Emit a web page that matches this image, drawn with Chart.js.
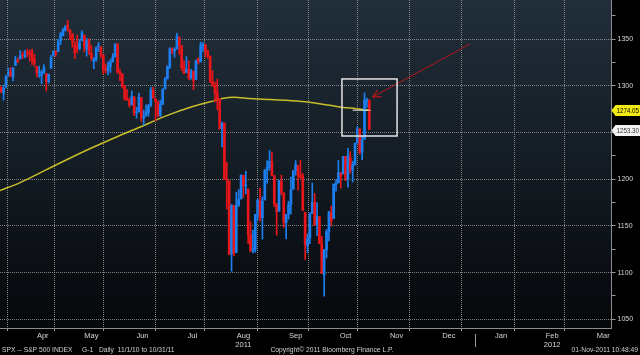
<!DOCTYPE html>
<html><head><meta charset="utf-8">
<script src="https://cdn.jsdelivr.net/npm/chart.js@4/dist/chart.umd.min.js"></script>
<style>html,body{margin:0;padding:0;background:#000;overflow:hidden}canvas{display:block}</style>
</head><body>
<canvas id="c" width="640" height="355"></canvas>
<script>
// ---- DATA (SPX daily, 22-Mar-2011 .. 31-Oct-2011) ----
const dates = [
 '3/22','3/23','3/24','3/25','3/28','3/29','3/30','3/31',
 '4/1','4/4','4/5','4/6','4/7','4/8','4/11','4/12','4/13','4/14','4/15','4/18','4/19','4/20','4/21','4/25','4/26','4/27','4/28','4/29',
 '5/2','5/3','5/4','5/5','5/6','5/9','5/10','5/11','5/12','5/13','5/16','5/17','5/18','5/19','5/20','5/23','5/24','5/25','5/26','5/27','5/31',
 '6/1','6/2','6/3','6/6','6/7','6/8','6/9','6/10','6/13','6/14','6/15','6/16','6/17','6/20','6/21','6/22','6/23','6/24','6/27','6/28','6/29','6/30',
 '7/1','7/5','7/6','7/7','7/8','7/11','7/12','7/13','7/14','7/15','7/18','7/19','7/20','7/21','7/22','7/25','7/26','7/27','7/28','7/29',
 '8/1','8/2','8/3','8/4','8/5','8/8','8/9','8/10','8/11','8/12','8/15','8/16','8/17','8/18','8/19','8/22','8/23','8/24','8/25','8/26','8/29','8/30','8/31',
 '9/1','9/2','9/6','9/7','9/8','9/9','9/12','9/13','9/14','9/15','9/16','9/19','9/20','9/21','9/22','9/23','9/26','9/27','9/28','9/29','9/30',
 '10/3','10/4','10/5','10/6','10/7','10/10','10/11','10/12','10/13','10/14','10/17','10/18','10/19','10/20','10/21','10/24','10/25','10/26','10/27','10/28','10/31'
];
const opens = [
 1298.3,1292.2,1300.6,1311.8,1315.5,1309.4,1321.9,1327.4,
 1329.5,1333.6,1332.0,1335.9,1334.8,1336.2,1329.0,1321.1,1314.0,1311.1,1314.5,1313.4,1305.0,1319.1,1333.2,1337.1,1336.8,1348.4,1353.9,1360.1,
 1365.2,1359.8,1355.9,1344.2,1340.3,1340.2,1348.3,1354.5,1339.4,1348.7,1334.8,1326.1,1328.5,1342.4,1342.0,1333.1,1317.7,1316.4,1320.6,1325.7,1331.1,
 1345.2,1314.6,1313.0,1300.3,1286.3,1284.6,1279.6,1288.3,1271.3,1272.2,1287.9,1265.5,1268.6,1271.5,1278.4,1295.5,1286.6,1283.0,1268.4,1280.2,1296.9,1307.6,
 1320.6,1339.6,1337.6,1339.6,1352.4,1343.3,1319.6,1314.5,1317.7,1308.9,1315.9,1307.1,1328.7,1325.7,1343.8,1344.3,1337.4,1331.9,1304.8,1300.1,
 1292.6,1286.6,1254.3,1260.2,1200.3,1198.5,1120.2,1171.8,1121.3,1172.9,1178.9,1204.2,1192.9,1189.6,1140.5,1123.6,1124.4,1162.2,1176.7,1158.9,1177.9,1209.8,1213.0,
 1219.1,1203.9,1173.8,1165.9,1197.9,1185.4,1153.5,1162.6,1173.3,1189.4,1209.2,1214.9,1204.5,1203.6,1164.6,1128.8,1136.9,1163.3,1175.4,1151.7,1159.9,
 1131.2,1097.4,1124.0,1144.1,1165.0,1158.2,1194.6,1196.2,1206.0,1205.7,1224.5,1200.8,1223.5,1209.9,1215.4,1238.7,1254.2,1229.2,1243.0,1284.4,1284.9
];
const highs = [
 1299.4,1300.6,1311.3,1319.2,1319.7,1319.5,1331.7,1329.8,
 1337.9,1336.7,1338.2,1339.4,1338.8,1339.5,1333.8,1321.1,1321.4,1316.8,1322.9,1313.4,1312.7,1332.7,1337.5,1337.6,1349.6,1357.5,1361.7,1364.6,
 1370.6,1360.8,1355.9,1348.0,1354.4,1349.4,1359.4,1354.5,1351.1,1350.5,1343.3,1330.4,1341.8,1346.8,1342.0,1333.1,1323.7,1325.9,1328.5,1334.6,1345.2,
 1345.2,1318.0,1313.0,1300.3,1296.2,1287.0,1294.5,1288.3,1277.0,1292.5,1287.9,1274.1,1279.8,1280.4,1298.6,1298.6,1286.6,1283.9,1284.9,1296.8,1309.2,1321.9,
 1341.0,1340.9,1340.9,1356.5,1352.4,1343.3,1327.2,1331.5,1326.9,1317.7,1315.9,1328.1,1330.4,1347.0,1346.1,1344.3,1338.5,1331.9,1316.3,1304.2,
 1307.4,1286.6,1261.2,1260.2,1218.1,1198.5,1172.9,1171.8,1186.3,1189.0,1204.5,1204.2,1208.5,1189.6,1154.5,1145.5,1162.4,1178.6,1190.7,1181.2,1210.1,1220.1,1230.7,
 1229.3,1203.9,1173.8,1198.6,1204.4,1185.4,1162.5,1176.4,1202.4,1209.1,1220.1,1214.9,1220.4,1206.3,1164.6,1141.7,1164.2,1195.9,1184.7,1175.1,1159.9,
 1138.9,1125.1,1146.1,1165.6,1171.4,1194.9,1199.2,1220.3,1207.5,1224.6,1224.5,1233.1,1229.6,1219.4,1239.0,1256.6,1254.2,1246.3,1292.7,1287.1,1284.9
];
const lows = [
 1292.7,1284.7,1297.7,1310.2,1310.2,1305.3,1321.9,1325.0,
 1328.6,1329.1,1330.0,1331.1,1326.6,1322.9,1321.1,1309.6,1309.2,1302.4,1313.5,1294.7,1303.0,1319.1,1332.0,1331.7,1336.8,1344.2,1353.6,1358.7,
 1358.6,1349.5,1341.5,1329.2,1335.6,1338.6,1348.3,1336.4,1332.0,1333.4,1327.3,1318.5,1326.6,1336.8,1330.7,1312.6,1313.9,1311.8,1314.4,1325.7,1331.1,
 1313.7,1305.6,1297.9,1284.9,1284.7,1277.4,1279.6,1268.3,1265.6,1272.2,1261.9,1258.1,1267.4,1267.6,1278.4,1286.8,1262.9,1267.2,1267.5,1280.2,1296.9,1307.6,
 1318.4,1334.3,1330.9,1339.6,1333.7,1316.4,1313.3,1314.5,1306.5,1307.4,1295.9,1307.1,1323.7,1325.7,1336.9,1331.1,1329.6,1303.5,1299.2,1282.9,
 1274.7,1254.0,1234.6,1199.5,1168.1,1119.3,1101.5,1118.0,1121.3,1170.7,1178.9,1180.5,1184.4,1131.0,1122.1,1121.1,1121.6,1156.3,1155.1,1135.9,1177.9,1195.8,1209.4,
 1203.9,1170.6,1140.1,1165.9,1183.3,1148.4,1136.1,1157.4,1162.7,1189.4,1204.5,1188.4,1201.3,1166.4,1114.2,1121.4,1131.1,1163.3,1150.4,1139.9,1131.3,
 1098.9,1074.8,1115.7,1134.0,1150.3,1158.2,1187.3,1196.2,1190.6,1205.7,1198.6,1191.5,1206.3,1197.3,1215.4,1238.7,1226.8,1221.1,1243.0,1277.0,1253.2
];
const closes = [
 1293.8,1297.5,1309.7,1313.8,1310.2,1319.4,1328.3,1325.8,
 1332.4,1332.9,1332.6,1335.5,1333.5,1328.2,1324.5,1314.2,1314.4,1314.5,1319.7,1305.1,1312.6,1330.4,1337.4,1335.3,1347.2,1355.7,1360.5,1363.6,
 1361.2,1356.6,1347.3,1335.1,1340.2,1346.3,1357.2,1342.1,1348.7,1337.8,1329.5,1329.0,1340.7,1343.6,1333.3,1317.4,1316.3,1320.5,1325.7,1331.1,1345.2,
 1314.6,1312.9,1300.2,1286.2,1284.9,1279.6,1289.0,1271.0,1271.8,1287.9,1265.4,1267.6,1271.5,1278.4,1295.5,1287.1,1283.5,1268.5,1280.1,1296.7,1307.4,1320.6,
 1339.7,1337.9,1339.2,1353.2,1343.8,1319.5,1313.6,1317.7,1308.9,1316.1,1305.4,1326.7,1325.8,1343.8,1345.0,1337.4,1331.9,1304.9,1300.7,1292.3,
 1286.9,1254.1,1260.3,1200.1,1199.4,1119.5,1172.5,1120.8,1172.6,1178.8,1204.5,1192.8,1193.9,1140.7,1123.5,1123.8,1162.4,1177.6,1159.3,1176.8,1210.1,1212.9,1218.9,
 1204.4,1174.0,1165.2,1198.6,1185.9,1154.2,1162.3,1172.9,1188.7,1209.1,1216.0,1204.1,1202.1,1166.8,1129.6,1136.4,1163.0,1175.4,1151.1,1160.4,1131.4,
 1099.2,1124.0,1144.0,1165.0,1155.5,1194.9,1195.5,1207.3,1203.7,1224.6,1200.9,1225.4,1209.9,1215.4,1238.3,1254.2,1229.1,1242.0,1284.6,1285.1,1253.3
];
// 200-day moving average, read at selected trading-day positions (Apr 1 = day 0)
const maDays   = [-9, 0, 10, 20, 30, 42, 50, 62, 72, 80, 85, 90, 97, 105, 112, 120, 126, 131, 136, 141, 147];
const maValues = [1187.5, 1196.5, 1209, 1221.5, 1233.5, 1247, 1255.5, 1268.5, 1277.5, 1283, 1286.5, 1288, 1286.5, 1285.5, 1284.6, 1283, 1281, 1279, 1277, 1275.8, 1274.05];
const monthNames = ['Apr','May','Jun','Jul','Aug','Sep','Oct','Nov','Dec','Jan','Feb','Mar'];
const monthYears = ['','','','','2011','','','','','','2012',''];
const monthStarts = [-0.5, 19.5, 40.5, 62.5, 82.5, 105.5, 126.5, 147.5, 169.5, 191.5, 213.5, 234.5, 256.5];
const yTicks = [1050,1075,1100,1125,1150,1175,1200,1225,1250,1275,1300,1325,1350,1375];
const lastMA = 1274.05, lastClose = 1253.30;
const arrowFrom = {x: 189.4, y: 1345}, arrowTo = {x: 148.4, y: 1288};
const boxX = [135.5, 158.7], boxY = [1246.4, 1307.5];

// ---- SETUP ----
const FIRST_DAY = -8;               // 22-Mar is 8 trading days before 1-Apr
const X_MIN = -8.5, X_MAX = 249.0, Y_MIN = 1040.7, Y_MAX = 1392.1;
const UP = '#1b7ff0', DOWN = '#e8161a';
const GRID = 'rgba(150,150,150,0.85)';
const FONT = "'Liberation Sans','DejaVu Sans',sans-serif";
Chart.defaults.font.family = FONT;
Chart.defaults.font.size = 8;

const xs = dates.map((d, i) => i + FIRST_DAY);
const candleColors = dates.map((d, i) => closes[i] >= opens[i] ? UP : DOWN);
const xTickVals = [];
monthNames.forEach((m, i) => { xTickVals.push(monthStarts[i]); xTickVals.push((monthStarts[i] + monthStarts[i + 1]) / 2); });

// draw text squeezed horizontally (narrow terminal-style font)
function narrowText(ctx, text, x, y, align, sx) {
  ctx.save();
  ctx.textAlign = align;
  ctx.translate(x, y);
  ctx.scale(sx, 1);
  ctx.fillText(text, 0, 0);
  ctx.restore();
}

const decorPlugin = {
  id: 'decor',
  beforeDraw(chart) {
    const {ctx, chartArea: a} = chart;
    ctx.save();
    ctx.fillStyle = '#000';
    ctx.fillRect(0, 0, chart.width, chart.height);
    const g = ctx.createLinearGradient(0, a.top, 0, a.bottom);
    g.addColorStop(0, '#212e3a');
    g.addColorStop(0.5, '#141c24');
    g.addColorStop(1, '#05070a');
    ctx.fillStyle = g;
    ctx.fillRect(a.left, a.top, a.right - a.left, a.bottom - a.top);
    ctx.restore();
  },
  afterDatasetsDraw(chart) {
    const {ctx} = chart, xS = chart.scales.x, yS = chart.scales.y;
    ctx.save();
    // annotation box
    ctx.strokeStyle = '#e4e4e4'; ctx.lineWidth = 1.5;
    const bx1 = xS.getPixelForValue(boxX[0]), bx2 = xS.getPixelForValue(boxX[1]);
    const by1 = yS.getPixelForValue(boxY[1]), by2 = yS.getPixelForValue(boxY[0]);
    ctx.strokeRect(bx1, by1, bx2 - bx1, by2 - by1);
    // arrow head
    const tx = xS.getPixelForValue(arrowTo.x), ty = yS.getPixelForValue(arrowTo.y);
    const fx = xS.getPixelForValue(arrowFrom.x), fy = yS.getPixelForValue(arrowFrom.y);
    const ang = Math.atan2(fy - ty, fx - tx);
    ctx.strokeStyle = '#b8161a'; ctx.lineWidth = 1.2;
    ctx.beginPath();
    [0.45, -0.45].forEach(d => {
      ctx.moveTo(tx, ty);
      ctx.lineTo(tx + 9 * Math.cos(ang + d), ty + 9 * Math.sin(ang + d));
    });
    ctx.stroke();
    ctx.restore();
  },
  afterDraw(chart) {
    const {ctx} = chart, xS = chart.scales.x, yS = chart.scales.y;
    ctx.save();
    // price tags on the right axis
    const tag = (v, fill, txt) => {
      const y = Math.round(yS.getPixelForValue(v)) + 0.5;
      const x0 = yS.left;
      ctx.fillStyle = fill;
      ctx.beginPath();
      ctx.moveTo(x0, y); ctx.lineTo(x0 + 4, y - 5.5); ctx.lineTo(640, y - 5.5);
      ctx.lineTo(640, y + 5.5); ctx.lineTo(x0 + 4, y + 5.5); ctx.closePath(); ctx.fill();
      ctx.fillStyle = txt; ctx.font = '8px ' + FONT;
      ctx.textBaseline = 'middle';
      narrowText(ctx, v.toFixed(2), x0 + 5, y + 0.5, 'left', 0.78);
    };
    tag(lastMA, '#f2ea10', '#000');
    tag(lastClose, '#f2f2f2', '#333');
    // year separator between Dec and Jan
    const sx = Math.round(xS.getPixelForValue(monthStarts[9])) + 0.5;
    ctx.strokeStyle = '#9a9a9a'; ctx.lineWidth = 1;
    ctx.beginPath(); ctx.moveTo(sx, 334); ctx.lineTo(sx, 347); ctx.stroke();
    // footer
    ctx.fillStyle = '#cfcfcf'; ctx.font = '8px ' + FONT; ctx.textBaseline = 'middle';
    const S = 0.84;
    narrowText(ctx, 'SPX -- S&P 500 INDEX', 2, 350, 'left', S);
    narrowText(ctx, 'G-1', 82, 350, 'left', S);
    narrowText(ctx, 'Daily  11/1/10 to 10/31/11', 99, 350, 'left', S);
    narrowText(ctx, 'Copyright\u00A9 2011 Bloomberg Finance L.P.', 332, 350, 'center', S);
    narrowText(ctx, '01-Nov-2011 10:48:49', 638, 350, 'right', S);
    ctx.restore();
  }
};

new Chart(document.getElementById('c'), {
  type: 'bar',
  data: {
    datasets: [
      { type: 'line', label: 'last', data: [{x: 140, y: lastMA}, {x: 147.5, y: lastMA}], borderColor: '#f0f0d8', borderWidth: 1, pointRadius: 0, order: 0 },
      { type: 'line', label: 'arrow', data: [arrowFrom, arrowTo], borderColor: '#b8161a', borderWidth: 1, pointRadius: 0, order: 0 },
      { type: 'bar', label: 'body', data: xs.map((x, i) => ({x, y: [opens[i], closes[i]]})), backgroundColor: candleColors, barThickness: 2, grouped: false, borderWidth: 0, minBarLength: 1, order: 1 },
      { type: 'bar', label: 'range', data: xs.map((x, i) => ({x, y: [lows[i], highs[i]]})), backgroundColor: candleColors, barThickness: 1, grouped: false, borderWidth: 0, order: 2 },
      { type: 'line', label: 'MA200', data: maDays.map((x, i) => ({x, y: maValues[i]})), borderColor: '#c9bd2a', borderWidth: 1.5, pointRadius: 0, cubicInterpolationMode: 'monotone', order: 3 }
    ]
  },
  options: {
    responsive: false, animation: false, devicePixelRatio: 1,
    layout: { padding: 0 },
    plugins: { legend: { display: false }, tooltip: { enabled: false } },
    scales: {
      x: {
        type: 'linear', position: 'bottom', min: X_MIN, max: X_MAX, offset: false,
        grid: { color: c => c.index % 2 === 0 ? GRID : 'rgba(0,0,0,0)', tickColor: c => c.index % 2 === 0 ? '#9a9a9a' : 'rgba(0,0,0,0)', drawTicks: true, tickLength: 3, lineWidth: 1 },
        border: { display: true, color: '#8c8c8c', width: 1, dash: [1, 1] },
        ticks: { autoSkip: false, maxRotation: 0, minRotation: 0, padding: 0, color: '#d6d6d6', font: { size: 7.5, lineHeight: 1.2 },
          callback: (v, i) => { if (i % 2 === 0) return ''; const m = (i - 1) / 2; return monthYears[m] ? [monthNames[m], monthYears[m]] : monthNames[m]; } },
        afterBuildTicks: s => { s.ticks = xTickVals.map(v => ({value: v})); },
        afterFit: s => { s.height = 27; s.paddingLeft = 0; s.paddingRight = 0; }
      },
      y: {
        type: 'linear', position: 'right', min: Y_MIN, max: Y_MAX,
        grid: { color: c => (c.tick && c.tick.value % 50 === 0) ? GRID : 'rgba(0,0,0,0)', tickColor: '#9a9a9a', drawTicks: true, tickLength: 4, lineWidth: 1 },
        border: { display: true, color: '#8c8c8c', width: 1, dash: [1, 1] },
        ticks: { padding: 2, color: '#d6d6d6', font: { size: 7 }, callback: v => v % 50 === 0 ? String(v) : '' },
        afterBuildTicks: s => { s.ticks = yTicks.map(v => ({value: v})); },
        afterFit: s => { s.width = 28.5; s.paddingTop = 0; s.paddingBottom = 0; }
      }
    }
  },
  plugins: [decorPlugin]
});
</script>
</body></html>
